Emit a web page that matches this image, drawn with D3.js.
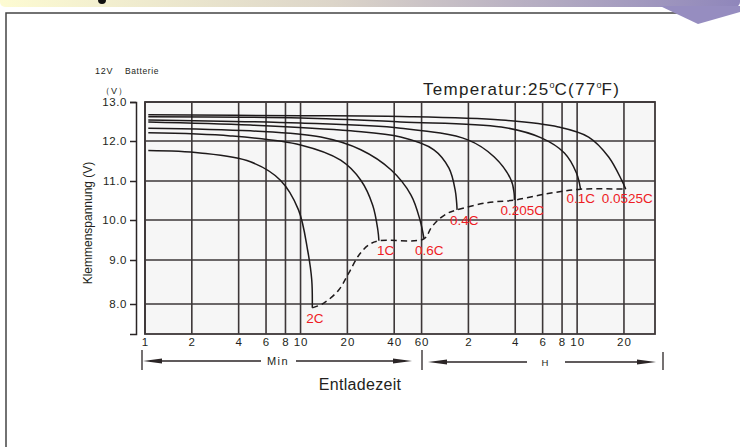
<!DOCTYPE html>
<html>
<head>
<meta charset="utf-8">
<script src="https://cdn.jsdelivr.net/npm/d3@7"></script>
<style>
  body { margin: 0; background: #fff; }
  svg { display: block; font-family: "Liberation Sans", Arial, sans-serif; }
</style>
</head>
<body>
<svg id="chart" width="740" height="447"></svg>
<script>
// x ticks are minutes (log axis), labels switch to hours after 60
const tickMinutes = [1, 2, 4, 6, 8, 10, 20, 40, 60, 120, 240, 360, 480, 600, 1200];
const tickLabels = ['1', '2', '4', '6', '8', '10', '20', '40', '60', '2', '4', '6', '8', '10', '20'];
const voltTicks = [8, 9, 10, 11, 12, 13];

// discharge curves: [minutes, volts]
const rates = ['2C', '1C', '0.6C', '0.4C', '0.205C', '0.1C', '0.0525C'];
const curve2C = [[1.05, 11.76], [2.26, 11.7], [4.76, 11.48], [7.42, 11.02], [9.7, 10.26], [11.1, 9.25], [11.8, 8.55], [11.9, 7.91]];
const curve1C = [[1.05, 12.21], [3.54, 12.13], [10, 11.9], [18.1, 11.52], [24.4, 11.02], [29.1, 10.38], [31.4, 9.75], [31.9, 9.48]];
const curve06C = [[1.05, 12.33], [4.76, 12.26], [13.5, 12.1], [24.4, 11.78], [38.1, 11.28], [51.3, 10.64], [58.6, 10.0], [62.2, 9.53]];
const curve04C = [[1.05, 12.49], [4.76, 12.41], [21, 12.26], [44, 12.1], [72, 11.78], [90, 11.32], [98.6, 10.77], [101.5, 10.26]];
const curve0205C = [[1.05, 12.54], [10, 12.46], [44, 12.33], [119, 12.03], [176, 11.6], [226, 11.02], [236, 10.69], [237, 10.51]];
const curve01C = [[1.05, 12.62], [10, 12.59], [44, 12.49], [195, 12.36], [353, 12.08], [497, 11.7], [594, 11.2], [631, 10.79]];
const curve00525C = [[1.05, 12.67], [10, 12.65], [44, 12.63], [195, 12.54], [455, 12.36], [711, 12.1], [957, 11.6], [1160, 11.02], [1232, 10.79]];
const curves = [curve2C, curve1C, curve06C, curve04C, curve0205C, curve01C, curve00525C];

// end-of-discharge voltage line (dashed)
const cutoffLine = [[11.9, 7.91], [14.1, 8.02], [17.6, 8.32], [20.4, 8.7], [23.7, 9.12], [27.5, 9.38], [31.9, 9.48],
  [62.2, 9.53], [69, 9.8], [76.5, 10.0], [88.8, 10.18], [101.5, 10.26], [156, 10.44], [237, 10.51], [381, 10.67], [631, 10.79], [1232, 10.79]];

const svg = d3.select('#chart');
const ink = '#2b2526';
const red = '#ee1c25';

// decoration: header band, callout wedge, page frame
const defs = svg.append('defs');
const grad = defs.append('linearGradient').attr('id', 'band');
grad.append('stop').attr('offset', '0%').attr('stop-color', '#fdfbd2');
grad.append('stop').attr('offset', '45%').attr('stop-color', '#dcd5c9');
grad.append('stop').attr('offset', '100%').attr('stop-color', '#8f86bb');
svg.append('rect').attr('x', 0).attr('y', -6).attr('width', 740).attr('height', 13).attr('rx', 5).attr('fill', 'url(#band)');
svg.append('circle').attr('cx', 102).attr('cy', 0).attr('r', 4).attr('fill', '#111');
svg.append('path').attr('d', 'M6,447 V13 H700').attr('fill', 'none').attr('stroke', '#444').attr('stroke-width', 1.5);
svg.append('polygon').attr('points', '660,6 740,6 740,12 698,24').attr('fill', '#968dc0');

const plotL = 145, plotR = 655, plotT = 102, plotB = 334;

const x = d3.scaleLog().domain([1, 1900]).range([plotL, plotR]);
const y = d3.scaleLinear().domain([7.3, 8, 9, 10, 11, 12, 13]).range([plotB, 304, 260, 220, 181, 141, plotT]);

// plot background
svg.append('rect')
  .attr('x', plotL).attr('y', plotT)
  .attr('width', plotR - plotL).attr('height', plotB - plotT)
  .attr('fill', '#f6f6f6');

// grid
const grid = svg.append('g').attr('stroke', '#3d3738').attr('stroke-width', 1.6);
grid.selectAll('.vline')
  .data(tickMinutes)
  .enter()
  .append('line')
    .attr('x1', d => x(d)).attr('x2', d => x(d))
    .attr('y1', plotT).attr('y2', plotB);
grid.selectAll('.hline')
  .data(voltTicks)
  .enter()
  .append('line')
    .attr('x1', plotL).attr('x2', plotR)
    .attr('y1', d => y(d)).attr('y2', d => y(d));
svg.append('rect')
  .attr('x', plotL).attr('y', plotT)
  .attr('width', plotR - plotL).attr('height', plotB - plotT)
  .attr('fill', 'none').attr('stroke', '#3d3738').attr('stroke-width', 1.8);

// y axis, drawn detached to the left of the frame
const yAxis = svg.append('g')
  .attr('transform', 'translate(136,0)')
  .call(d3.axisLeft(y).tickValues(voltTicks).tickFormat(d3.format('.1f')).tickSizeInner(6).tickSizeOuter(6).tickPadding(3));
yAxis.select('.domain').attr('stroke', ink).attr('stroke-width', 1.5);
yAxis.selectAll('.tick line').attr('stroke', ink).attr('stroke-width', 1.5);
yAxis.selectAll('.tick text')
  .attr('fill', '#231f20')
  .style('font-size', '11.5px')
  .style('letter-spacing', '0.6px')
  .style('font-family', '"Liberation Sans", Arial, sans-serif');

// x tick labels
const xAxis = svg.append('g')
  .attr('transform', `translate(0,${plotB})`)
  .call(d3.axisBottom(x).tickValues(tickMinutes).tickFormat((d, i) => tickLabels[i]).tickSize(0).tickPadding(4));
xAxis.select('.domain').remove();
xAxis.selectAll('.tick text')
  .attr('fill', '#231f20')
  .style('font-size', '11.5px')
  .style('letter-spacing', '1px')
  .style('font-family', '"Liberation Sans", Arial, sans-serif');

// curves
const line = d3.line()
  .x(d => x(d[0]))
  .y(d => y(d[1]))
  .curve(d3.curveCatmullRom.alpha(0.5));

svg.append('g')
  .selectAll('path')
  .data(curves)
  .enter()
  .append('path')
    .attr('d', line)
    .attr('fill', 'none')
    .attr('stroke', '#1e1a1b')
    .attr('stroke-width', 1.5);

svg.append('path')
  .attr('d', line(cutoffLine))
  .attr('fill', 'none')
  .attr('stroke', '#1e1a1b')
  .attr('stroke-width', 1.5)
  .attr('stroke-dasharray', '6,4');

// rate labels under each curve end
const labelShift = { '2C': [-6, 15], '1C': [-2, 14], '0.6C': [-9, 16], '0.4C': [-7, 15], '0.205C': [-14, 15], '0.1C': [-14, 14], '0.0525C': [-24, 14] };
svg.append('g')
  .selectAll('text')
  .data(rates)
  .enter()
  .append('text')
    .attr('x', (d, i) => x(curves[i][curves[i].length - 1][0]) + labelShift[d][0])
    .attr('y', (d, i) => y(curves[i][curves[i].length - 1][1]) + labelShift[d][1])
    .attr('fill', red)
    .style('font-size', '13.5px')
    .text(d => d);

// title and small captions
const title = svg.append('text').attr('x', 423).attr('y', 95).attr('fill', '#231f20')
  .style('font-size', '17px').style('letter-spacing', '1.3px');
title.append('tspan').text('Temperatur:25');
title.append('tspan').attr('dy', -7).style('font-size', '9px').style('letter-spacing', '0px').text('o');
title.append('tspan').attr('dy', 7).text('C(77');
title.append('tspan').attr('dy', -7).style('font-size', '9px').style('letter-spacing', '0px').text('o');
title.append('tspan').attr('dy', 7).text('F)');

svg.append('text').attr('x', 95).attr('y', 74).attr('fill', '#231f20')
  .style('font-size', '9px').style('letter-spacing', '0.8px').text('12V');
svg.append('text').attr('x', 125).attr('y', 74).attr('fill', '#231f20')
  .style('font-size', '8.5px').style('letter-spacing', '0.6px').text('Batterie');
svg.append('text').attr('x', 101).attr('y', 94).attr('fill', '#231f20')
  .style('font-size', '9px').style('letter-spacing', '1px').text('（V）');

svg.append('text')
  .attr('transform', 'translate(92,223) rotate(-90)')
  .attr('text-anchor', 'middle')
  .attr('fill', '#231f20')
  .style('font-size', '12px')
  .text('Klemmenspannung (V)');

svg.append('text')
  .attr('x', 360).attr('y', 390)
  .attr('text-anchor', 'middle')
  .attr('fill', '#231f20')
  .style('font-size', '16px')
  .style('letter-spacing', '0.3px')
  .text('Entladezeit');

// Min / H range arrows
const arrows = svg.append('g').attr('stroke', ink).attr('stroke-width', 1.3);
[[142, 350, 370], [422, 350, 370], [663, 352, 370]].forEach(b => {
  arrows.append('line').attr('x1', b[0]).attr('x2', b[0]).attr('y1', b[1]).attr('y2', b[2]);
});
arrows.append('line').attr('x1', 150).attr('x2', 261).attr('y1', 361).attr('y2', 361);
arrows.append('line').attr('x1', 296).attr('x2', 405).attr('y1', 361).attr('y2', 361);
arrows.append('line').attr('x1', 436).attr('x2', 527).attr('y1', 362).attr('y2', 362);
arrows.append('line').attr('x1', 565).attr('x2', 648).attr('y1', 362).attr('y2', 362);
const heads = svg.append('g').attr('fill', ink);
heads.append('polygon').attr('points', '143,361 162,358.5 162,363.5');
heads.append('polygon').attr('points', '412,361 393,358.5 393,363.5');
heads.append('polygon').attr('points', '428,362 447,359.5 447,364.5');
heads.append('polygon').attr('points', '656,362 637,359.5 637,364.5');
svg.append('text').attr('x', 278).attr('y', 365).attr('text-anchor', 'middle').attr('fill', '#231f20')
  .style('font-size', '11px').style('letter-spacing', '1.4px').text('Min');
svg.append('text').attr('x', 545).attr('y', 366).attr('text-anchor', 'middle').attr('fill', '#231f20')
  .style('font-size', '9.5px').text('H');
</script>
</body>
</html>
